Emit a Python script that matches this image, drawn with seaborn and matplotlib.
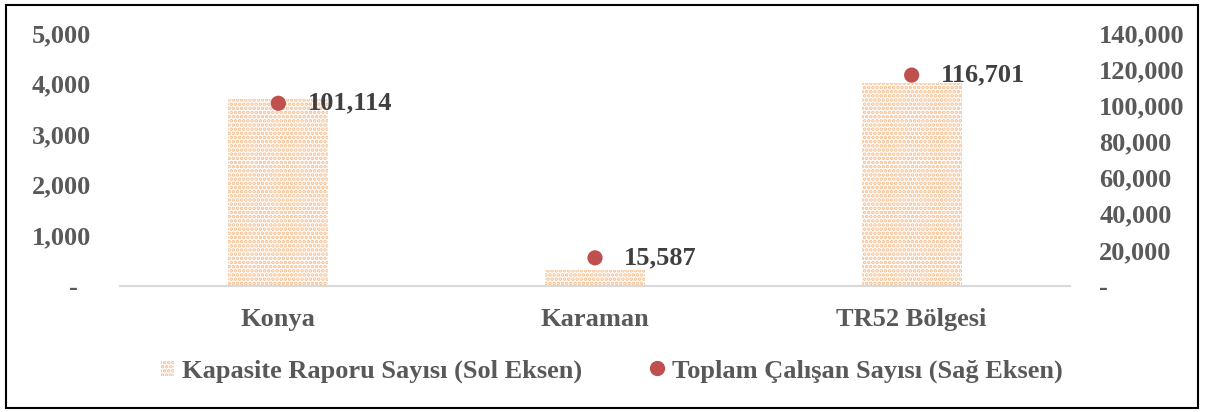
import matplotlib
matplotlib.use("Agg")
import matplotlib.pyplot as plt
import matplotlib.patches as mpatches
from matplotlib.lines import Line2D
from matplotlib.ticker import FuncFormatter
import seaborn as sns
import pandas as pd

# veriler
bolgeler = ["Konya", "Karaman", "TR52 Bölgesi"]
kapasite_raporu = [3700, 310, 4010]
toplam_calisan = [101114, 15587, 116701]
sol_ticks = [0, 1000, 2000, 3000, 4000, 5000]
sag_ticks = [0, 20000, 40000, 60000, 80000, 100000, 120000, 140000]

bar_label = "Kapasite Raporu Sayısı (Sol Eksen)"
dot_label = "Toplam Çalışan Sayısı (Sağ Eksen)"

sns.set_style("white")
plt.rcParams["font.family"] = ["Liberation Serif", "DejaVu Serif"]
plt.rcParams["font.weight"] = "bold"
plt.rcParams["hatch.linewidth"] = 1.8

gri = "#595959"
turuncu = "#F7BE8E"
kirmizi = "#C0504D"
fs = 19

df = pd.DataFrame({"bolge": bolgeler, "kapasite": kapasite_raporu, "calisan": toplam_calisan})

fig = plt.figure(figsize=(12.06, 4.12), dpi=100)
ax = fig.add_axes([120 / 1206, 1 - 286 / 412, 950 / 1206, 253 / 412])

sns.barplot(data=df, x="bolge", y="kapasite", ax=ax, width=0.316,
            color="white", linewidth=0)
for p in ax.patches:
    p.set_facecolor("white")
    p.set_edgecolor(turuncu)
    p.set_hatch("....")

ax.set_ylim(0, 5000)
ax.set_xlim(-0.5, 2.5)
ax.set_yticks(sol_ticks)
ax.yaxis.set_major_formatter(FuncFormatter(lambda v, pos: "-  " if v == 0 else f"{int(v):,}"))
ax.tick_params(axis="y", length=0, pad=21, labelsize=fs, labelcolor=gri)
ax.tick_params(axis="x", length=0, pad=16, labelsize=fs, labelcolor=gri)
ax.set_xlabel("")
ax.set_ylabel("")
for s in ["top", "left", "right"]:
    ax.spines[s].set_visible(False)
ax.spines["bottom"].set_color("#D9D9D9")
ax.spines["bottom"].set_linewidth(1.5)

ax2 = ax.twinx()
sns.scatterplot(data=df, x="bolge", y="calisan", ax=ax2, color=kirmizi,
                s=120, edgecolor="none", zorder=5)
ax2.set_ylim(0, 140000)
ax2.set_yticks(sag_ticks)
ax2.yaxis.set_major_formatter(FuncFormatter(lambda v, pos: "-" if v == 0 else f"{int(v):,}"))
ax2.tick_params(axis="y", length=0, pad=21, labelsize=fs, labelcolor=gri)
ax2.set_ylabel("")
for s in ax2.spines.values():
    s.set_visible(False)

for i, v in enumerate(toplam_calisan):
    ax2.annotate(f"{v:,}", (i, v), xytext=(21, 0), textcoords="offset points",
                 va="center", ha="left", fontsize=fs, fontweight="bold", color="#404040")

handles = [
    mpatches.Patch(facecolor="white", edgecolor=turuncu, hatch="....", linewidth=0, label=bar_label),
    Line2D([], [], marker="o", linestyle="none", color=kirmizi, markersize=10, label=dot_label),
]
fig.legend(handles=handles, loc="center", bbox_to_anchor=(0.507, 1 - 371 / 412), ncol=2,
           frameon=False, fontsize=fs, labelcolor=gri, handlelength=0.5, handleheight=0.6,
           handletextpad=0.3, columnspacing=2.6)

fig.patches.append(mpatches.Rectangle((6 / 1206, 4 / 412), 1192 / 1206, 403 / 412,
                                      transform=fig.transFigure, fill=False,
                                      edgecolor="black", linewidth=1.5))

fig.savefig("out.png", dpi=100)
